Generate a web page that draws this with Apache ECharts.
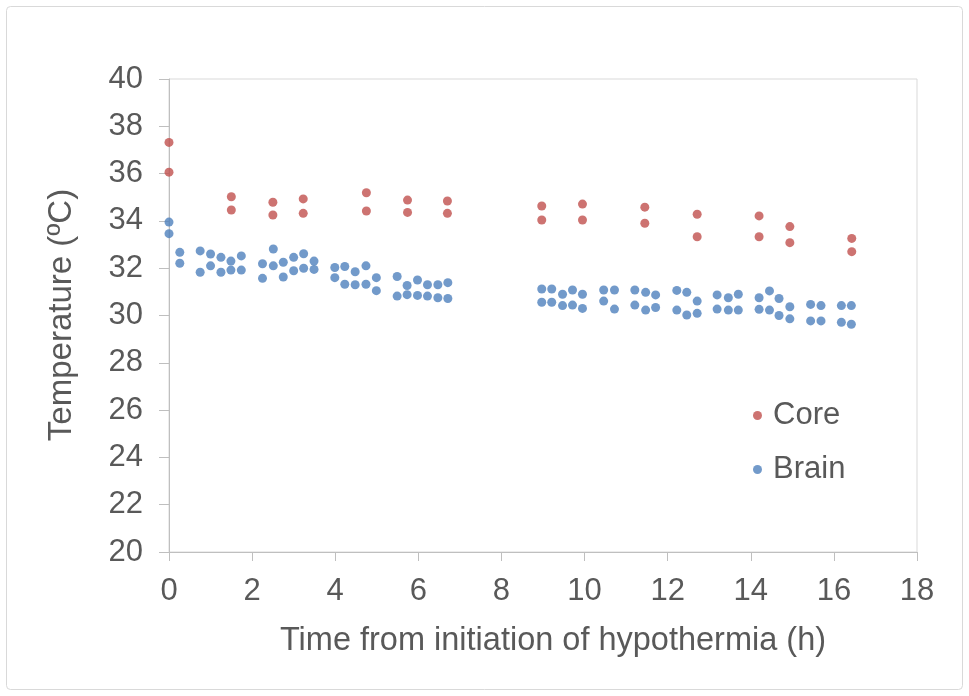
<!DOCTYPE html>
<html>
<head>
<meta charset="utf-8">
<script src="https://cdn.jsdelivr.net/npm/echarts@6/dist/echarts.min.js"></script>
<style>html,body{margin:0;padding:0;background:#fff}#c{width:969px;height:696px}</style>
</head>
<body>
<div id="c"></div>
<script>
const xTicks = [0, 2, 4, 6, 8, 10, 12, 14, 16, 18];
const yTicks = [20, 22, 24, 26, 28, 30, 32, 34, 36, 38, 40];
const seriesNames = ['Core', 'Brain'];
const xTitle = 'Time from initiation of hypothermia (h)';
const yTitle = 'Temperature (ºC)';

const coreTime = [0, 0, 1.5, 1.5, 2.5, 2.5, 3.23, 3.23, 4.75, 4.75, 5.74, 5.74, 6.7, 6.7,
  8.97, 8.97, 9.95, 9.95, 11.45, 11.45, 12.71, 12.71, 14.2, 14.2, 14.94, 14.94, 16.43, 16.43];
const coreTemp = [37.32, 36.06, 35.02, 34.46, 34.79, 34.25, 34.93, 34.32, 35.19, 34.42, 34.88, 34.36, 34.84, 34.32,
  34.63, 34.04, 34.71, 34.04, 34.58, 33.9, 34.28, 33.33, 34.21, 33.33, 33.76, 33.08, 33.26, 32.7];

const brainTime = [0, 0, 0.26, 0.26, 0.75, 0.75, 1.0, 1.0, 1.25, 1.25, 1.49, 1.49, 1.74, 1.74,
  2.25, 2.25, 2.51, 2.51, 2.75, 2.75, 3.0, 3.0, 3.24, 3.24, 3.49, 3.49,
  3.99, 3.99, 4.23, 4.23, 4.48, 4.48, 4.74, 4.74, 4.99, 4.99,
  5.49, 5.49, 5.73, 5.73, 5.98, 5.98, 6.22, 6.22, 6.47, 6.47, 6.71, 6.71,
  8.97, 8.97, 9.21, 9.21, 9.47, 9.47, 9.71, 9.71, 9.95, 9.95,
  10.46, 10.46, 10.72, 10.72, 11.21, 11.21, 11.47, 11.47, 11.71, 11.71,
  12.22, 12.22, 12.46, 12.46, 12.71, 12.71, 13.19, 13.19, 13.46, 13.46, 13.7, 13.7,
  14.2, 14.2, 14.45, 14.45, 14.68, 14.68, 14.94, 14.94, 15.44, 15.44, 15.69, 15.69,
  16.18, 16.18, 16.42, 16.42];
const brainTemp = [33.95, 33.46, 32.67, 32.21, 32.73, 31.83, 32.6, 32.1, 32.46, 31.83, 32.3, 31.92, 32.52, 31.92,
  32.19, 31.57, 32.81, 32.1, 32.25, 31.63, 32.46, 31.89, 32.61, 32.0, 32.3, 31.95,
  32.03, 31.6, 32.07, 31.32, 31.85, 31.3, 32.1, 31.32, 31.6, 31.05,
  31.65, 30.82, 31.27, 30.88, 31.5, 30.85, 31.3, 30.82, 31.3, 30.75, 31.39, 30.72,
  31.12, 30.56, 31.12, 30.56, 30.9, 30.42, 31.08, 30.44, 30.9, 30.3,
  31.08, 30.61, 31.08, 30.27, 31.08, 30.44, 30.98, 30.23, 30.87, 30.34,
  31.06, 30.23, 30.98, 30.02, 30.61, 30.09, 30.87, 30.27, 30.75, 30.23, 30.9, 30.23,
  30.75, 30.26, 31.04, 30.23, 30.72, 30.0, 30.37, 29.86, 30.47, 29.77, 30.42, 29.77,
  30.42, 29.71, 30.42, 29.63];

const zip = (a, b) => a.map((v, i) => [v, b[i]]);
const FONT = '"Liberation Sans", Arial, sans-serif';
const TXT = '#595959';

const chart = echarts.init(document.getElementById('c'), null, { renderer: 'canvas' });
chart.setOption({
  animation: false,
  backgroundColor: '#fff',
  textStyle: { fontFamily: FONT },
  grid: { left: 169, right: 52, top: 79, bottom: 144, show: true, borderColor: '#D9D9D9', borderWidth: 1, backgroundColor: 'transparent' },
  xAxis: {
    type: 'value', min: xTicks[0], max: xTicks[xTicks.length - 1], interval: 2,
    axisLine: { show: true, onZero: false, lineStyle: { color: '#BFBFBF', width: 1 } },
    axisTick: { show: true, length: 9, lineStyle: { color: '#BFBFBF' } },
    splitLine: { show: false },
    axisLabel: { color: TXT, fontSize: 31, fontFamily: FONT, margin: 24 }
  },
  yAxis: {
    type: 'value', min: yTicks[0], max: yTicks[yTicks.length - 1], interval: 2,
    axisLine: { show: true, onZero: false, lineStyle: { color: '#BFBFBF', width: 1 } },
    axisTick: { show: true, length: 10, lineStyle: { color: '#BFBFBF' } },
    splitLine: { show: false },
    axisLabel: { color: TXT, fontSize: 31, fontFamily: FONT, margin: 26 }
  },
  legend: {
    data: seriesNames, orient: 'vertical', left: 748, top: 395,
    icon: 'circle', itemWidth: 9, itemHeight: 9, itemGap: 23,
    textStyle: { color: TXT, fontSize: 31, fontFamily: FONT, lineHeight: 31, padding: [0, 0, 0, 6] }
  },
  graphic: [
    { type: 'rect', shape: { x: 6.5, y: 6.5, width: 956, height: 683, r: 4 }, style: { fill: 'none', stroke: '#D9D9D9', lineWidth: 1 }, silent: true, z: -1 },
    { type: 'text', x: 553, y: 641, style: { text: xTitle, fill: TXT, font: '32.5px ' + FONT, textAlign: 'center', textVerticalAlign: 'middle' } },
    { type: 'text', x: 62, y: 315, rotation: Math.PI / 2, style: { text: yTitle, fill: TXT, font: '33px ' + FONT, textAlign: 'center', textVerticalAlign: 'middle' } }
  ],
  series: [
    { name: seriesNames[0], type: 'scatter', symbol: 'circle', symbolSize: 9, itemStyle: { color: '#C0504D' }, data: zip(coreTime, coreTemp) },
    { name: seriesNames[1], type: 'scatter', symbol: 'circle', symbolSize: 9, itemStyle: { color: '#4F81BD' }, data: zip(brainTime, brainTemp) }
  ]
});
</script>
</body>
</html>
